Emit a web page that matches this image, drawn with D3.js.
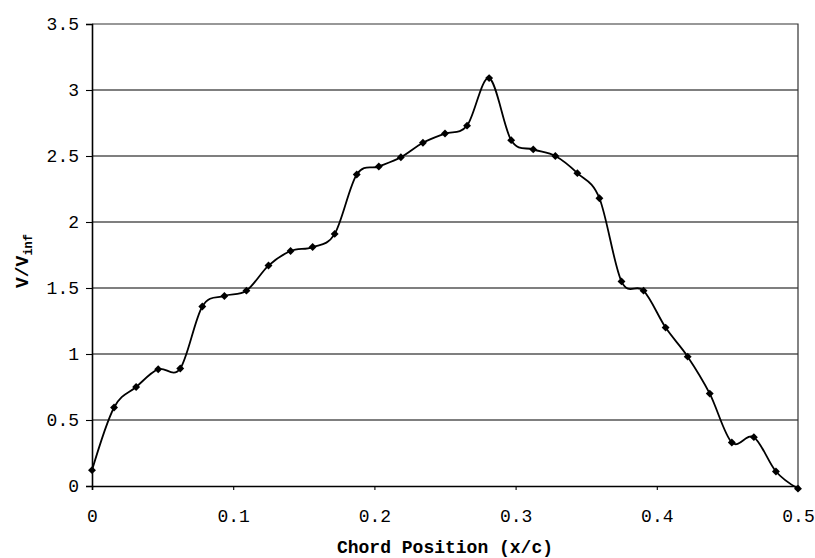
<!DOCTYPE html>
<html>
<head>
<meta charset="utf-8">
<script src="https://cdn.jsdelivr.net/npm/d3@7"></script>
<style>
  body { margin: 0; background: #fff; }
  svg { display: block; }
</style>
</head>
<body>
<div class="chart"></div>
<script>
// chord positions (x/c) and velocity ratios
const chordPos = [0, 0.015625, 0.03125, 0.046875, 0.0625, 0.078125, 0.09375, 0.109375,
  0.125, 0.140625, 0.15625, 0.171875, 0.1875, 0.203125, 0.21875, 0.234375, 0.25,
  0.265625, 0.28125, 0.296875, 0.3125, 0.328125, 0.34375, 0.359375, 0.375,
  0.390625, 0.40625, 0.421875, 0.4375, 0.453125, 0.46875, 0.484375, 0.5]
const velRatio = [0.12, 0.595, 0.75, 0.885, 0.89, 1.36, 1.44, 1.48,
  1.67, 1.78, 1.81, 1.91, 2.36, 2.42, 2.49, 2.6, 2.67,
  2.73, 3.09, 2.62, 2.55, 2.5, 2.37, 2.18, 1.55,
  1.48, 1.2, 0.98, 0.7, 0.33, 0.37, 0.11, -0.02]
const xTicks = [0, 0.1, 0.2, 0.3, 0.4, 0.5]
const yTicks = [0, 0.5, 1, 1.5, 2, 2.5, 3, 3.5]

const data = chordPos.map((x, i) => ({ x: x, y: velRatio[i] }))

const margin = { top: 24, right: 17, bottom: 72, left: 92 }
const width = 815 - margin.left - margin.right
const height = 558 - margin.top - margin.bottom
const font = '"Liberation Mono", "Courier New", monospace'

const svg = d3
  .select('.chart')
  .append('svg')
  .attr('width', 815)
  .attr('height', 558)
  .append('g')
  .attr('transform', `translate(${margin.left}, ${margin.top})`)

const xScale = d3.scaleLinear().domain([0, 0.5]).range([0, width])
const yScale = d3.scaleLinear().domain([0, 3.5]).range([height, 0])

// horizontal grid lines
svg
  .append('g')
  .selectAll('line')
  .data(yTicks.slice(1, -1))
  .enter()
  .append('line')
  .attr('x1', 0)
  .attr('x2', width)
  .attr('y1', d => yScale(d))
  .attr('y2', d => yScale(d))
  .attr('stroke', '#000')
  .attr('stroke-width', 1.1)

// plot frame (top and right)
svg
  .append('path')
  .attr('d', `M0,${yScale(3.5)}H${width}V${height}`)
  .style('fill', 'none')
  .attr('stroke', '#333')
  .attr('stroke-width', 1.2)

const xAxis = svg
  .append('g')
  .attr('transform', `translate(0, ${height})`)
  .call(d3.axisBottom(xScale).tickValues(xTicks).tickSize(4).tickPadding(19)
    .tickFormat(d => d === 0 ? '0' : d3.format('.1f')(d)))
const yAxis = svg
  .append('g')
  .call(d3.axisLeft(yScale).tickValues(yTicks).tickSize(6).tickPadding(7)
    .tickFormat(d => String(d)))

;[xAxis, yAxis].forEach(ax => {
  ax.select('.domain').attr('stroke', '#000').attr('stroke-width', 1.6)
  ax.selectAll('.tick line').attr('stroke', '#000').attr('stroke-width', 1.1)
  ax.selectAll('.tick text')
    .style('font-family', font)
    .style('font-size', '18px')
    .attr('fill', '#000')
})

// smoothed line through the points
const line = d3
  .line()
  .x(d => xScale(d.x))
  .y(d => yScale(d.y))
  .curve(d3.curveCardinal.tension(0))

svg
  .append('path')
  .data([data])
  .style('fill', 'none')
  .attr('stroke', '#000')
  .attr('stroke-width', 1.8)
  .attr('d', line)

// diamond markers
svg
  .selectAll('.marker')
  .data(data)
  .enter()
  .append('path')
  .attr('class', 'marker')
  .attr('d', d3.symbol().type(d3.symbolDiamond2).size(40))
  .attr('transform', d => `translate(${xScale(d.x)}, ${yScale(d.y)})`)
  .attr('fill', '#000')

// axis titles
svg
  .append('text')
  .attr('x', 353)
  .attr('y', height + 67)
  .attr('text-anchor', 'middle')
  .style('font-family', font)
  .style('font-size', '18px')
  .style('font-weight', 'bold')
  .text('Chord Position (x/c)')

const yTitle = svg
  .append('text')
  .attr('transform', `translate(-64, ${height / 2 + 6}) rotate(-90)`)
  .attr('text-anchor', 'middle')
  .style('font-family', font)
  .style('font-size', '18px')
  .style('font-weight', 'bold')
yTitle.append('tspan').text('V/V')
yTitle.append('tspan').attr('dy', 4).style('font-size', '12px').text('inf')
</script>
</body>
</html>
